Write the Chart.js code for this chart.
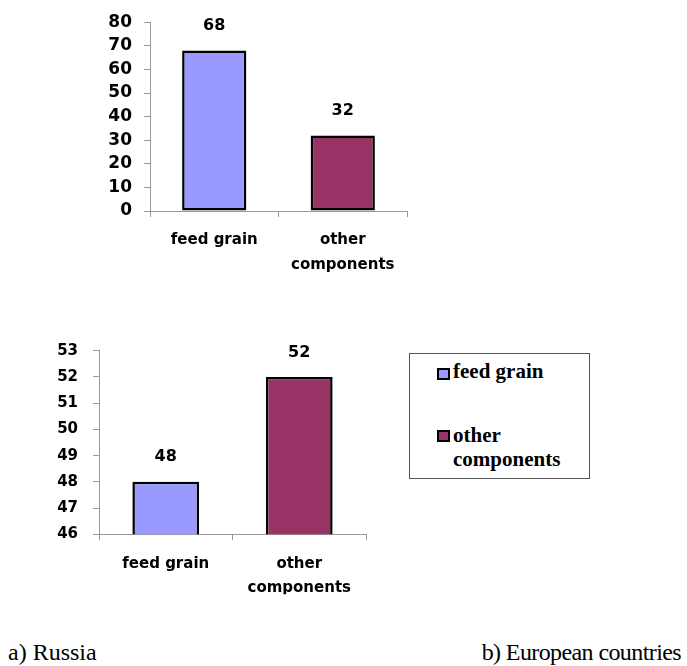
<!DOCTYPE html>
<html>
<head>
<meta charset="utf-8">
<script src="https://cdn.jsdelivr.net/npm/chart.js@4.4.1/dist/chart.umd.min.js"></script>
<style>
  html, body { margin: 0; padding: 0; background: #fff; }
  #page { position: relative; width: 687px; height: 666px; overflow: hidden; }
  canvas { position: absolute; }
  .legend { position: absolute; left: 409px; top: 353px; width: 181px; height: 126px; box-sizing: border-box; border: 1px solid #555; }
  .mk { position: absolute; width: 13px; height: 12px; box-sizing: border-box; border: 2px solid #000; }
  .lt { position: absolute; font: bold 21px "Liberation Serif", "Times New Roman", serif; line-height: 24px; color: #000; white-space: nowrap; }
  .cap { position: absolute; font: 24px "Liberation Serif", "Times New Roman", serif; line-height: 30px; color: #000; white-space: nowrap; }
</style>
</head>
<body>
<div id="page">
  <canvas id="c1" width="430" height="290" style="left:0;top:0"></canvas>
  <canvas id="c2" width="400" height="300" style="left:0;top:300px"></canvas>
  <div id="legend"></div>
  <div id="caps"></div>
</div>
<script>
// ---- data ----
const categoryLabels = [['feed grain'], ['other', 'components']];
const seriesNames = ['feed grain', 'other components'];
const russiaValues = [68, 32];
const europeValues = [48, 52];
const russiaAxis = [0, 80, 10];   // min, max, step
const europeAxis = [46, 53, 1];   // min, max, step
const barColors = ['#9999FF', '#993366'];
const captions = ['a) Russia', 'b) European countries'];

// ---- helpers ----
const AXIS = '#999999';
const SANS = "'DejaVu Sans', sans-serif";

const valueLabels = {
  id: 'valueLabels',
  afterDatasetsDraw(chart) {
    const ctx = chart.ctx;
    const meta = chart.getDatasetMeta(0);
    const data = chart.data.datasets[0].data;
    ctx.save();
    ctx.font = "bold 16px " + SANS;
    ctx.fillStyle = '#000';
    ctx.textAlign = 'center';
    ctx.textBaseline = 'middle';
    meta.data.forEach((bar, i) => {
      ctx.fillText(String(data[i]), bar.x, bar.y - 24.5);
    });
    ctx.restore();
  }
};

function makeChart(id, values, axis, opts) {
  return new Chart(document.getElementById(id), {
    type: 'bar',
    data: {
      labels: categoryLabels,
      datasets: [{
        data: values,
        backgroundColor: barColors,
        borderColor: '#000',
        borderWidth: 2.5,
        borderSkipped: false,
        barPercentage: 0.5,
        categoryPercentage: 1.0
      }]
    },
    options: {
      responsive: false,
      animation: false,
      devicePixelRatio: 1,
      layout: { padding: opts.padding },
      plugins: { legend: { display: false }, tooltip: { enabled: false } },
      scales: {
        x: {
          offset: true,
          grid: { display: true, offset: true, drawOnChartArea: false, drawTicks: true, tickLength: 6, color: AXIS, lineWidth: 1 },
          border: { display: true, color: AXIS, width: 1 },
          ticks: { color: '#000', font: { family: SANS, size: 15, weight: 'bold', lineHeight: 1.65 }, padding: 11, maxRotation: 0, autoSkip: false },
          afterFit: s => { s.height = opts.xh; }
        },
        y: {
          min: axis[0], max: axis[1],
          grid: { display: true, drawOnChartArea: false, drawTicks: true, tickLength: 6, color: AXIS, lineWidth: 1 },
          border: { display: true, color: AXIS, width: 1 },
          ticks: { stepSize: axis[2], color: '#000', font: { family: SANS, size: opts.yfs, weight: 'bold' }, padding: opts.ypad },
          afterFit: s => { s.width = opts.yw; }
        }
      }
    },
    plugins: [valueLabels]
  });
}

makeChart('c1', russiaValues, russiaAxis, { padding: { left: 0, right: 23, top: 20.7, bottom: 9 }, xh: 70, yw: 150, yfs: 17, ypad: 12 });
makeChart('c2', europeValues, europeAxis, { padding: { left: 0, right: 34, top: 50.7, bottom: 5.7 }, xh: 60, yw: 99, yfs: 15, ypad: 15 });

// ---- legend ----
const legend = document.getElementById('legend');
legend.className = 'legend';
const legendPos = [
  { mk: [27, 14], tx: [43, 5], lines: ['feed grain'] },
  { mk: [27, 76], tx: [43, 69], lines: ['other', 'components'] }
];
seriesNames.forEach((name, i) => {
  const p = legendPos[i];
  const m = document.createElement('div');
  m.className = 'mk';
  m.style.left = p.mk[0] + 'px';
  m.style.top = p.mk[1] + 'px';
  m.style.background = barColors[i];
  legend.appendChild(m);
  const t = document.createElement('div');
  t.className = 'lt';
  t.style.left = p.tx[0] + 'px';
  t.style.top = p.tx[1] + 'px';
  t.innerHTML = p.lines.join('<br>');
  legend.appendChild(t);
});

// ---- captions ----
const caps = document.getElementById('caps');
const capStyles = ['left:8px;top:637px', 'right:6px;top:637px;letter-spacing:-0.6px'];
captions.forEach((txt, i) => {
  const d = document.createElement('div');
  d.className = 'cap';
  d.style.cssText = capStyles[i];
  d.textContent = txt;
  caps.appendChild(d);
});
</script>
</body>
</html>
